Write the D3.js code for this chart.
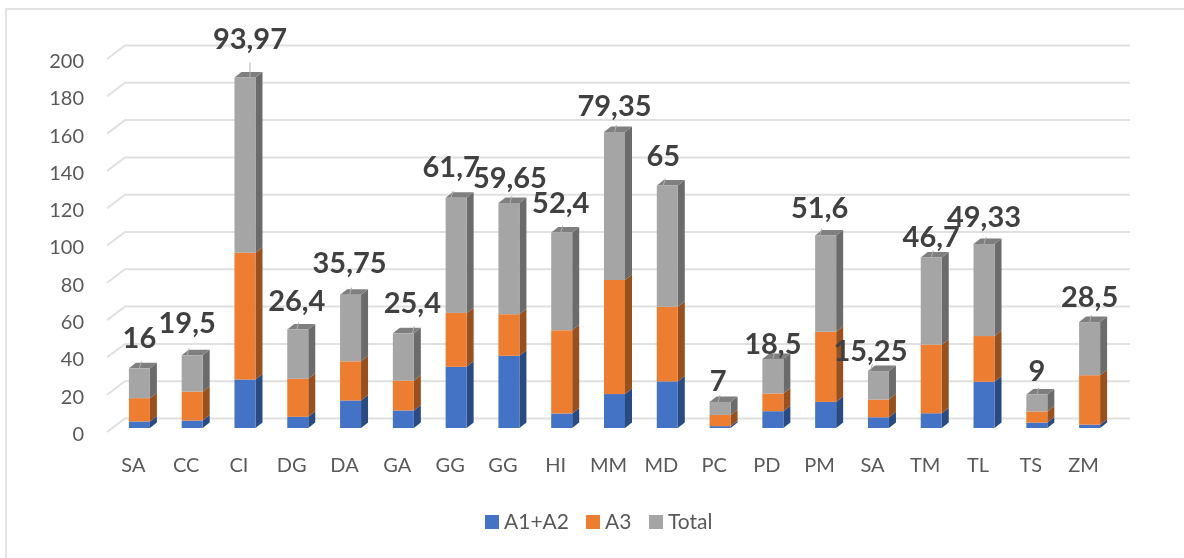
<!DOCTYPE html>
<html>
<head>
<meta charset="utf-8">
<script src="https://cdn.jsdelivr.net/npm/d3@7"></script>
<style>
  html, body { margin: 0; padding: 0; background: #fff; }
  svg { display: block; font-family: Lato, "Open Sans", sans-serif; filter: blur(0.4px); }
</style>
</head>
<body>
<div id="grafico"></div>
<script>
// Valores
const categorias = ["SA", "CC", "CI", "DG", "DA", "GA", "GG", "GG", "HI", "MM", "MD", "PC", "PD", "PM", "SA", "TM", "TL", "TS", "ZM"]
const a1a2 = [3.5, 4, 26, 6, 14.75, 9.4, 32.8, 38.7, 7.8, 18.2, 25, 1, 9, 14, 5.75, 7.9, 24.8, 2.9, 1.8]
const a3 = [12.5, 15.5, 67.97, 20.4, 21, 16, 28.9, 22.3, 44.6, 61.15, 40, 6, 9.5, 37.6, 9.5, 36.8, 24.5, 6, 26.5]
const total = [16, 19.5, 93.97, 26.4, 35.75, 25.4, 61.7, 59.65, 52.4, 79.35, 65, 7, 18.5, 51.6, 15.25, 46.7, 49.33, 9, 28.5]
const rotulos = ["16", "19,5", "93,97", "26,4", "35,75", "25,4", "61,7", "59,65", "52,4", "79,35", "65", "7", "18,5", "51,6", "15,25", "46,7", "49,33", "9", "28,5"]
const marcas_y = [0, 20, 40, 60, 80, 100, 120, 140, 160, 180, 200]
const nomes_series = ["A1+A2", "A3", "Total"]

// Deslocamento de cada rotulo em relacao ao topo da barra
const rotulo_dx = [0, -5, 5, -1, -1, 9, -5, 1, -1, 0, -4, -2, 0, -6, -8, 0, 0, 0, 0]
const rotulo_dy = [-20, -22, -28.5, -18.5, -21.5, -20, -21, -15, -19.5, -16, -19.5, -11, -5, -17.5, -10, -10.5, -17, -13.5, -15]

// Cor da frente e cor da lateral de cada serie
const cores = ["#4472c4", "#ed7d31", "#a5a5a5"]
const cores_lado = ["#2a4a82", "#98501e", "#6b6b6b"]
const cores_topo = ["#3a62a8", "#c96a2a", "#7f7f7f"]

const largura = 1184
const altura = 558

// Plano da frente do grafico
const x = d3.scaleBand().domain(d3.range(categorias.length)).range([107, 1110])
const y = d3.scaleLinear().domain([0, 200]).range([432, 59])

// Deslocamentos da perspectiva
const fundo = { x: 18, y: -13.5 }
const barra_frente = { x: 6, y: -4 }
const barra_lado = { x: 7, y: -5.5 }
const largura_barra = 21

const svg = d3.select("#grafico").append("svg")
    .attr("width", largura)
    .attr("height", altura)

// Moldura: so aparecem o lado esquerdo e o de cima
svg.append("path")
    .attr("d", "M6," + altura + "V9H" + largura)
    .attr("fill", "none")
    .attr("stroke", "#dcdcdc")
    .attr("stroke-width", 1.5)

// Linhas de grade: diagonal + linha do fundo
marcas_y.forEach(function (v) {
    const p = d3.path()
    p.moveTo(107, y(v))
    p.lineTo(107 + fundo.x, y(v) + fundo.y)
    p.lineTo(1110 + fundo.x + 2, y(v) + fundo.y)
    svg.append("path")
        .attr("d", p)
        .attr("fill", "none")
        .attr("stroke", "#e0e0e0")
        .attr("stroke-width", 2)
})

// Eixo y
const eixo_y = svg.append("g")
    .attr("transform", "translate(92, 2)")
    .call(d3.axisLeft(y).tickValues(marcas_y).tickSize(0).tickPadding(8))
eixo_y.select(".domain").remove()
eixo_y.selectAll("text")
    .attr("font-family", "Lato")
    .attr("font-size", 20)
    .attr("fill", "#595959")

// Eixo x
const eixo_x = svg.append("g")
    .attr("transform", "translate(0, 458)")
    .call(d3.axisBottom(x).tickFormat(function (i) { return categorias[i] }).tickSize(0).tickPadding(0))
eixo_x.select(".domain").remove()
eixo_x.selectAll("text")
    .attr("font-family", "Lato")
    .attr("font-size", 20)
    .attr("fill", "#595959")

// Barras empilhadas em 3D (lateral, topo, frente)
const pilha = d3.stack()
    .keys([0, 1, 2])
    .value(function (d, k) { return d[k] })(categorias.map(function (c, i) { return [a1a2[i], a3[i], total[i]] }))

pilha.forEach(function (serie, s) {
    const g = svg.append("g").attr("class", "serie-" + s)
    serie.forEach(function (d, i) {
        const x0 = x(i) + x.bandwidth() / 2 + barra_frente.x - largura_barra / 2
        const x1 = x0 + largura_barra
        const yb = y(d[0]) + barra_frente.y
        const yt = y(d[1]) + barra_frente.y

        // lateral
        g.append("polygon")
            .attr("points", [[x1, yb], [x1 + barra_lado.x, yb + barra_lado.y], [x1 + barra_lado.x, yt + barra_lado.y], [x1, yt]].join(" "))
            .attr("fill", cores_lado[s])

        // topo, so na ultima serie
        if (s === 2) {
            g.append("polygon")
                .attr("points", [[x0, yt], [x0 + barra_lado.x, yt + barra_lado.y], [x1 + barra_lado.x, yt + barra_lado.y], [x1, yt]].join(" "))
                .attr("fill", cores_topo[s])
        }

        // frente
        g.append("rect")
            .attr("x", x0)
            .attr("y", yt)
            .attr("width", largura_barra)
            .attr("height", yb - yt)
            .attr("fill", cores[s])
    })
})

// Rotulos de dados e linhas de chamada
pilha[2].forEach(function (d, i) {
    const cx = x(i) + x.bandwidth() / 2 + barra_frente.x + rotulo_dx[i]
    const topo = y(d[1]) + barra_frente.y

    // CI tem a linha de chamada mais comprida
    const chamada = categorias[i] === "CI" ? 15 : 7
    svg.append("line")
        .attr("x1", cx).attr("y1", topo)
        .attr("x2", cx + (chamada > 7 ? 0 : 2)).attr("y2", topo - chamada)
        .attr("stroke", "#b0b0b0")
        .attr("stroke-width", 1)

    svg.append("text")
        .attr("x", cx)
        .attr("y", topo + rotulo_dy[i])
        .attr("text-anchor", "middle")
        .attr("font-size", 29)
        .attr("font-weight", 700)
        .attr("fill", "#404040")
        .text(rotulos[i])
})

// Legenda
const legenda_x = [485, 586, 649]
nomes_series.forEach(function (nome, i) {
    svg.append("rect")
        .attr("x", legenda_x[i]).attr("y", 515)
        .attr("width", 14).attr("height", 14)
        .attr("fill", cores[i])
    svg.append("text")
        .attr("x", legenda_x[i] + 19).attr("y", 529)
        .attr("font-size", 21)
        .attr("fill", "#595959")
        .text(nome)
})
</script>
</body>
</html>
